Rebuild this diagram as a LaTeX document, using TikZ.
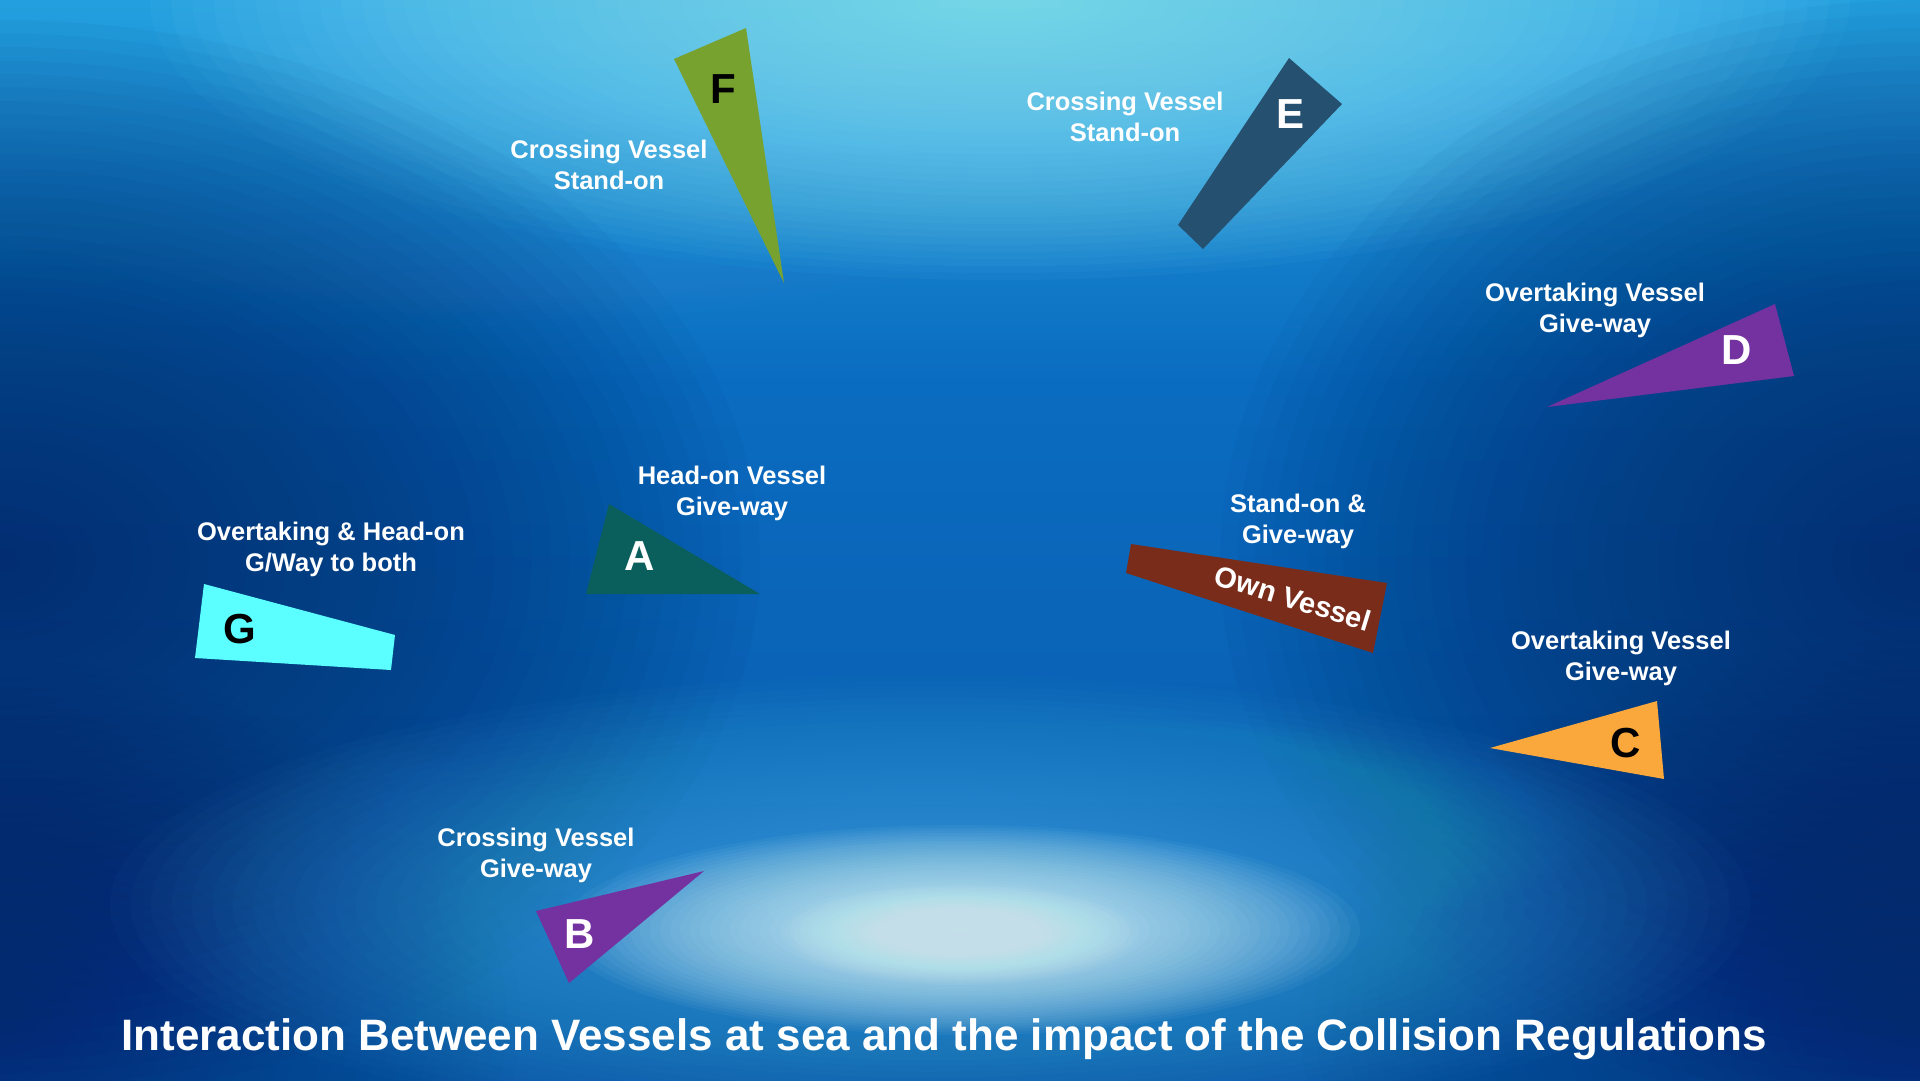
\documentclass[tikz,border=0pt]{standalone}
\usepackage{fontspec}
\setmainfont{Liberation Sans}
\definecolor{bgA}{HTML}{239FDE}
\definecolor{bgB}{HTML}{0A6CC0}
\definecolor{bgC}{HTML}{0A56A8}
\definecolor{navy}{HTML}{022A68}
\definecolor{glowc}{HTML}{5CC8F4}
\definecolor{glowin}{HTML}{E2FDFF}
\definecolor{topglow}{HTML}{96EEFF}
\definecolor{vesF}{HTML}{77A22F}
\definecolor{vesE}{HTML}{265070}
\definecolor{vesD}{HTML}{7431A0}
\definecolor{vesA}{HTML}{0A5F5C}
\definecolor{vesG}{HTML}{5BFFFF}
\definecolor{vesO}{HTML}{7A2C1B}
\definecolor{vesC}{HTML}{FAA83C}
\definecolor{vesB}{HTML}{7431A0}
\newcommand\softblob[6]{%
  \foreach \kk in {1,...,40}{%
    \fill[#1, opacity=#6] (#2,#3) ellipse [x radius={#4/40*\kk}, y radius={#5/40*\kk}];
  }%
}
\tikzset{
  lbl/.style={text=white, font=\bfseries\fontsize{25.5}{31}\selectfont, align=center, inner sep=0pt},
  letter/.style={font=\bfseries\fontsize{42}{42}\selectfont, inner sep=0pt},
  ttl/.style={text=white, font=\bfseries\fontsize{44}{50}\selectfont, inner sep=0pt}
}
\begin{document}
\begin{tikzpicture}[x=1pt,y=-1pt]
\useasboundingbox (0,0) rectangle (1920,1080);
% background
\shade[top color=bgA, bottom color=bgB] (0,0) rectangle (1920,381);
\shade[top color=bgB, bottom color=bgC] (0,380) rectangle (1920,1080);
\begin{scope}
\clip (0,0) rectangle (1920,1080);
\softblob{topglow}{1000}{0}{850}{280}{0.04}
\softblob{topglow}{500}{170}{600}{150}{0.008}
\softblob{navy}{0}{560}{760}{540}{0.035}
\softblob{navy}{1920}{560}{700}{560}{0.035}
\softblob{navy}{0}{1020}{520}{360}{0.02}
\softblob{navy}{1920}{1020}{620}{380}{0.02}
\softblob{glowc}{930}{905}{820}{230}{0.022}
\softblob{glowc}{1150}{830}{450}{110}{0.012}
\softblob{glowin}{960}{930}{400}{105}{0.045}
\softblob{glowin}{960}{935}{180}{50}{0.03}
\end{scope}
% vessels
\fill[vesF] (674,59) -- (746,28) -- (784,283) -- cycle;
\fill[vesE] (1289,58) -- (1342,104) -- (1203,249) -- (1178,225) -- cycle;
\fill[vesD] (1775,304) -- (1794,376) -- (1547,407) -- cycle;
\fill[vesA] (609,504) -- (760,594) -- (586,594) -- cycle;
\fill[vesG] (204,584) -- (395,635) -- (391,670) -- (195,658) -- cycle;
\fill[vesO] (1131,544) -- (1387,583) -- (1373,653) -- (1126,573) -- cycle;
\fill[vesC] (1657,701) -- (1664,779) -- (1490,748) -- cycle;
\fill[vesB] (536,911) -- (704,871) -- (569,983) -- cycle;
% letters
\node[letter, text=black] (lF) at (723,89) {F};
\node[letter, text=white] (lE) at (1290,114) {E};
\node[letter, text=white] (lD) at (1737,350) {D};
\node[letter, text=white] (lA) at (640,556) {A};
\node[letter, text=black] (lG) at (240,629) {G};
\node[letter, text=black] (lC) at (1626,743) {C};
\node[letter, text=white] (lB) at (580,934) {B};
\node[text=white, font=\bfseries\fontsize{29}{29}\selectfont, inner sep=0pt, rotate=-17] (lO) at (1293,598) {Own Vessel};
% labels
\node[lbl] (tF) at (609,165) {Crossing Vessel\\Stand-on};
\node[lbl] (tE) at (1125,117) {Crossing Vessel\\Stand-on};
\node[lbl] (tD) at (1595,310) {Overtaking Vessel\\Give-way};
\node[lbl] (tA) at (732,493) {Head-on Vessel\\Give-way};
\node[lbl] (tO) at (1298,521) {Stand-on \&\\Give-way};
\node[lbl] (tG) at (331,549) {Overtaking \& Head-on\\G/Way to both};
\node[lbl] (tC) at (1621,658) {Overtaking Vessel\\Give-way};
\node[lbl] (tB) at (536,855) {Crossing Vessel\\Give-way};
\node[ttl] (title) at (944,1039) {Interaction Between Vessels at sea and the impact of the Collision Regulations};
\end{tikzpicture}
\end{document}
